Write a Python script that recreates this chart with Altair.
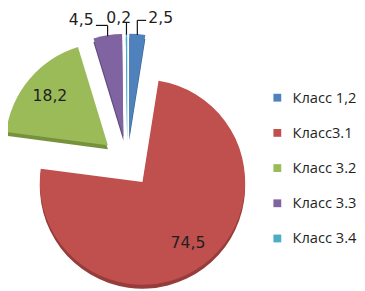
import altair as alt
import pandas as pd

categories = ["Класс 1,2", "Класс3.1", "Класс 3.2", "Класс 3.3", "Класс 3.4"]
values = [2.5, 74.5, 18.2, 4.5, 0.2]
colors = ["#4F81BD", "#C0504D", "#9BBB59", "#8064A2", "#4BACC6"]
shades = ["#3A6290", "#963C3A", "#76923C", "#5F4A7B", "#31859C"]

df = pd.DataFrame({
    "idx": list(range(len(categories))),
    "cat": categories,
    "value": values,
    "shade": shades,
})

CX, CY = 122, 154   # pie centre (chart px)
EXP = 26            # explosion distance
R = 105             # radius

base = alt.Chart(df).transform_joinaggregate(
    total="sum(value)"
).transform_window(
    cum="sum(value)", sort=[alt.SortField("idx")], frame=[None, 0]
).transform_calculate(
    t0="2*PI*(datum.cum - datum.value)/datum.total",
    t1="2*PI*datum.cum/datum.total",
).transform_calculate(
    mid="(datum.t0 + datum.t1)/2",
).transform_calculate(
    s="sin(datum.mid)", c="cos(datum.mid)",
).transform_calculate(
    cx=f"{CX} + {EXP}*datum.s",
    cy=f"{CY} - {EXP}*datum.c",
    cy_sh=f"{CY} - {EXP}*datum.c + 4",
    ex=f"{CX} + ({EXP}+{R})*datum.s",
    ey=f"{CY} - ({EXP}+{R})*datum.c + 1",
    side="datum.s > 0.03 ? 1 : (datum.s < -0.03 ? -1 : 0)",
    lab="replace(format(datum.value, '.1f'), '.', ',')",
).transform_calculate(
    ely="datum.side == 1 ? datum.ey - 15 : (datum.side == -1 ? datum.ey - 11 : datum.ey - 13)",
    hx="datum.side == 1 ? datum.ex + 9 : (datum.side == -1 ? datum.ex - 12 : datum.ex)",
).transform_calculate(
    lx=f"datum.value > 10 ? datum.cx + 0.74*{R}*datum.s : "
       "(datum.side == 1 ? datum.ex + 24 : (datum.side == -1 ? datum.ex - 27 : datum.ex - 8))",
    ly=f"datum.value > 10 ? datum.cy - 0.74*{R}*datum.c : "
       "(datum.side == 1 ? datum.ely - 2 : (datum.side == -1 ? datum.ely - 5 : datum.ely - 4))",
)

X = lambda f: alt.X(f, type="quantitative", scale=None, axis=None)
Y = lambda f: alt.Y(f, type="quantitative", scale=None, axis=None)

shadow = base.mark_arc(radius=R).encode(
    x=X("cx"), y=Y("cy_sh"),
    theta=alt.Theta("t0:Q", scale=None, stack=False),
    theta2="t1:Q",
    color=alt.Color("shade:N", scale=None),
)

arcs = base.mark_arc(radius=R).encode(
    x=X("cx"), y=Y("cy"),
    theta=alt.Theta("t0:Q", scale=None, stack=False),
    theta2="t1:Q",
    color=alt.Color(
        "cat:N",
        scale=alt.Scale(domain=categories, range=colors),
        legend=alt.Legend(
            title=None, orient="none", legendX=268, legendY=81,
            symbolType="square", symbolSize=64, symbolStrokeWidth=0,
            labelFont="Open Sans", labelFontSize=15, labelColor="#1f1f1f",
            labelOffset=8, rowPadding=20, labelLimit=200,
        ),
    ),
)

small = base.transform_filter("datum.value < 10")
vlines = small.mark_rule(color="#111111", strokeWidth=1.2).encode(
    x=X("ex"), y=Y("ey"), x2="ex:Q", y2="ely:Q",
)
hlines = small.transform_filter("datum.side != 0").mark_rule(color="#111111", strokeWidth=1.2).encode(
    x=X("ex"), y=Y("ely"), x2="hx:Q", y2="ely:Q",
)

labels = base.mark_text(font="DejaVu Sans", fontSize=16, color="#1f1f1f").encode(
    x=X("lx"), y=Y("ly"), text="lab:N",
)

chart = alt.layer(shadow, arcs, vlines, hlines, labels).properties(
    width=357, height=283, autosize=alt.AutoSizeParams(type="none"), padding=0,
).configure_view(strokeWidth=0)

chart.save("out.html", embed_options={"renderer": "svg", "actions": False})
